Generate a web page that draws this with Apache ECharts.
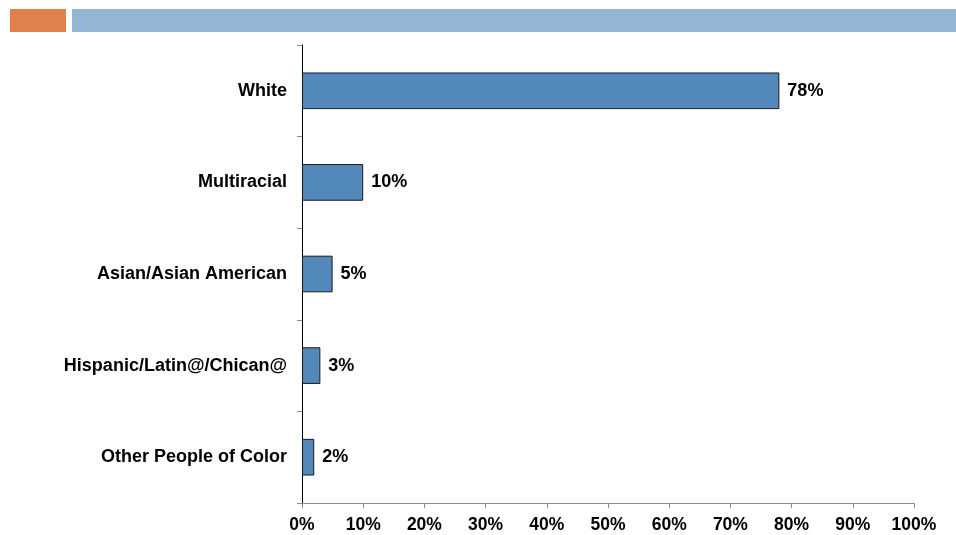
<!DOCTYPE html>
<html>
<head>
<meta charset="utf-8">
<script src="https://cdn.jsdelivr.net/npm/echarts@6/dist/echarts.min.js"></script>
<style>
  html, body { margin: 0; padding: 0; background: #fff; }
  #chart { width: 956px; height: 535px; }
</style>
</head>
<body>
<div id="chart"></div>
<script>
// Share of respondents by race / ethnicity (percent)
const categories = ['White', 'Multiracial', 'Asian/Asian American', 'Hispanic/Latin@/Chican@', 'Other People of Color'];
const values = [78, 10, 5, 3, 2];
const xTicks = [0, 10, 20, 30, 40, 50, 60, 70, 80, 90, 100];

const chart = echarts.init(document.getElementById('chart'), null, { renderer: 'canvas' });
const font = 'Arial, "Liberation Sans", sans-serif';

chart.setOption({
  animation: false,
  backgroundColor: '#ffffff',
  graphic: [
    { type: 'rect', shape: { x: 10, y: 9, width: 56, height: 23 }, style: { fill: '#E0804A' } },
    { type: 'rect', shape: { x: 72, y: 9, width: 884, height: 23 }, style: { fill: '#94B6D4' } }
  ],
  grid: { left: 302, right: 42, top: 45, bottom: 32, containLabel: false },
  xAxis: {
    type: 'value',
    min: xTicks[0],
    max: xTicks[xTicks.length - 1],
    interval: 10,
    axisLine: { show: true, lineStyle: { color: '#8c8c8c', width: 1 } },
    axisTick: { show: true, length: 5, lineStyle: { color: '#8c8c8c' } },
    splitLine: { show: false },
    axisLabel: {
      formatter: v => v + '%',
      color: '#000', fontFamily: font, fontWeight: 'bold', fontSize: 17.5, margin: 13
    }
  },
  yAxis: {
    type: 'category',
    data: categories,
    inverse: true,
    axisLine: { show: true, lineStyle: { color: '#000', width: 1 } },
    axisTick: { show: true, length: 5, lineStyle: { color: '#8c8c8c' } },
    axisLabel: { color: '#000', fontFamily: font, fontWeight: 'bold', fontSize: 18, margin: 15 }
  },
  series: [{
    type: 'bar',
    data: values,
    barWidth: '40%',
    itemStyle: { color: '#5389BA', borderColor: '#1a1a1a', borderWidth: 1 },
    label: {
      show: true, position: 'right', distance: 8,
      formatter: p => p.value + '%',
      color: '#000', fontFamily: font, fontWeight: 'bold', fontSize: 18
    }
  }]
});
</script>
</body>
</html>
